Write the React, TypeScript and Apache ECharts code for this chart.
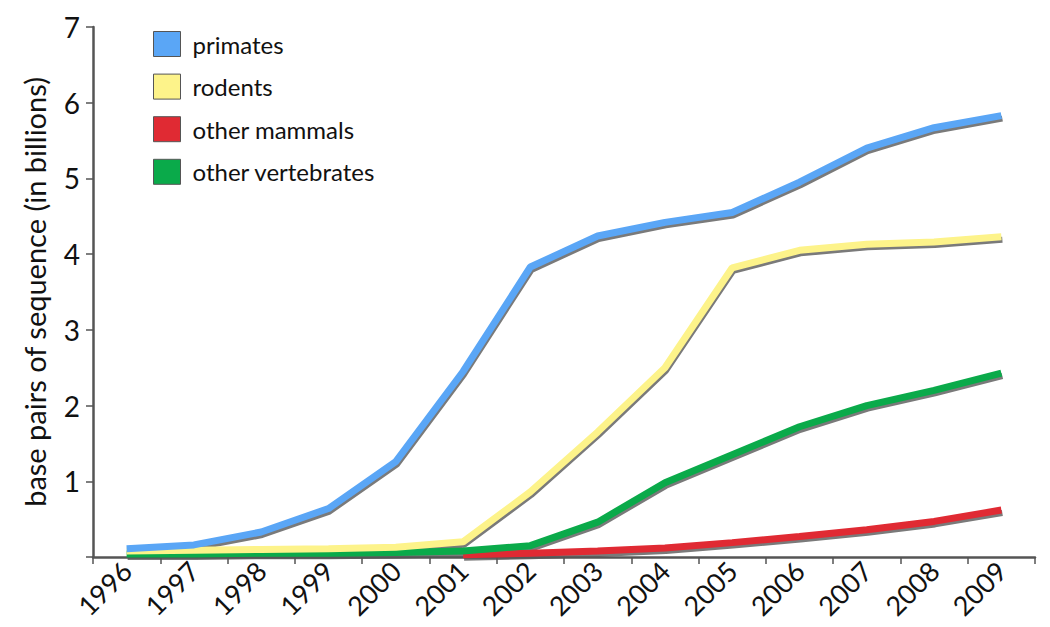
import React, { useEffect, useRef } from "react";
import * as echarts from "echarts";

const years = ["1996","1997","1998","1999","2000","2001","2002","2003","2004","2005","2006","2007","2008","2009"];
const primates = [0.11, 0.16, 0.33, 0.64, 1.26, 2.45, 3.83, 4.24, 4.42, 4.55, 4.95, 5.4, 5.67, 5.83];
const rodents = [0.08, 0.09, 0.1, 0.11, 0.13, 0.2, 0.86, 1.65, 2.5, 3.82, 4.05, 4.13, 4.16, 4.23];
const otherMammals = [null, null, null, null, null, 0.03, 0.05, 0.08, 0.12, 0.19, 0.27, 0.36, 0.47, 0.62];
const otherVertebrates = [0.04, 0.04, 0.05, 0.05, 0.06, 0.08, 0.15, 0.46, 0.98, 1.35, 1.72, 2.0, 2.2, 2.43];
const seriesNames = ["primates", "rodents", "other mammals", "other vertebrates"];
const colors = ["#5aa6f6", "#fdf38a", "#e02a33", "#0aaa4a"];

const FONT = "Lato, 'Open Sans', sans-serif";

export default function App() {
  const ref = useRef<HTMLDivElement>(null);
  useEffect(() => {
    if (!ref.current) return;
    const chart = echarts.init(ref.current, null, { renderer: "svg" });
    const datasets = [primates, rodents, otherMammals, otherVertebrates];
    const order = [2, 3, 1, 0];
    const shadowSeries = order.map((i) => ({
      name: seriesNames[i] + " shadow",
      type: "line",
      xAxisIndex: 1,
      yAxisIndex: 1,
      data: datasets[i],
      symbol: "none",
      silent: true,
      z: 1,
      lineStyle: { color: "#7a7a7a", width: 6 },
    }));
    const mainSeries = order.map((i) => ({
      name: seriesNames[i],
      type: "line",
      data: datasets[i],
      symbol: "none",
      z: 3 + order.indexOf(i),
      lineStyle: { color: colors[i], width: 7 },
      itemStyle: { color: colors[i], borderColor: "#555", borderWidth: 1 },
    }));
    const hiddenAxis = {
      show: false,
    };
    chart.setOption({
      animation: false,
      backgroundColor: "#ffffff",
      textStyle: { fontFamily: FONT },
      grid: [
        { left: 93, right: 15, top: 27, bottom: 70, containLabel: false },
        { left: 94, right: 14, top: 30, bottom: 67, containLabel: false },
      ],
      legend: {
        orient: "vertical",
        left: 153,
        top: 31,
        padding: 0,
        icon: "rect",
        itemWidth: 27,
        itemHeight: 25,
        itemGap: 16.6,
        data: seriesNames,
        itemStyle: { borderColor: "#555", borderWidth: 1 },
        textStyle: { fontSize: 24, color: "#111", fontFamily: FONT, padding: [0, 0, 0, 7] },
      },
      xAxis: [
        {
          type: "category",
          gridIndex: 0,
          data: years,
          boundaryGap: true,
          z: 2,
          axisLine: { lineStyle: { color: "#555", width: 2.5 } },
          axisTick: { show: true, length: 7, lineStyle: { color: "#555", width: 1.5 } },
          axisLabel: { rotate: 45, fontSize: 27, color: "#111", margin: 9, fontFamily: FONT },
          splitLine: { show: false },
        },
        { type: "category", gridIndex: 1, data: years, boundaryGap: true, ...hiddenAxis },
      ],
      yAxis: [
        {
          type: "value",
          gridIndex: 0,
          min: 0,
          max: 7,
          interval: 1,
          z: 2,
          name: "base pairs of sequence (in billions)",
          nameLocation: "middle",
          nameGap: 44,
          nameTextStyle: { fontSize: 29, color: "#111", fontFamily: FONT },
          axisLine: { show: true, lineStyle: { color: "#555", width: 2.5 } },
          axisTick: { show: true, length: 7, lineStyle: { color: "#555", width: 1.5 } },
          axisLabel: {
            fontSize: 28,
            color: "#111",
            margin: 13,
            fontFamily: FONT,
            formatter: (v: number) => (v === 0 ? "" : String(v)),
          },
          splitLine: { show: false },
        },
        { type: "value", gridIndex: 1, min: 0, max: 7, interval: 1, ...hiddenAxis },
      ],
      series: [...shadowSeries, ...mainSeries],
    });
    return () => chart.dispose();
  }, []);
  return <div ref={ref} style={{ width: 1050, height: 627, position: "absolute", left: 0, top: 0 }} />;
}
